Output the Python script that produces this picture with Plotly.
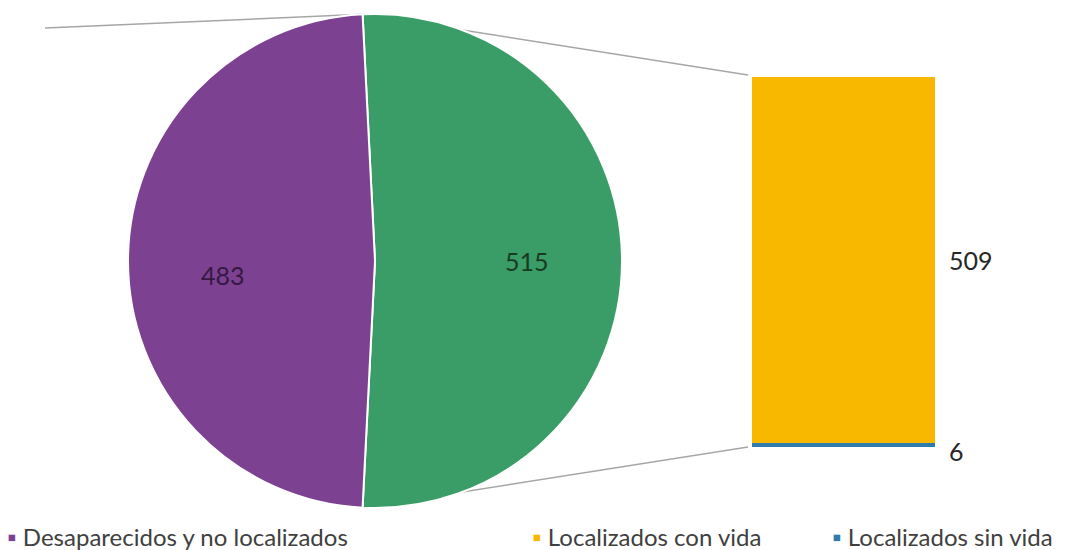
import math
import plotly.graph_objects as go

# Pie: missing vs. located persons
pie_labels = ["Localizados", "Desaparecidos y no localizados"]
pie_values = [515, 483]
pie_colors = ["#3A9D67", "#7D4192"]
pie_text_colors = ["#183A22", "#351843"]

# Breakdown bar of the located slice
bar_labels = ["Localizados sin vida", "Localizados con vida"]
bar_values = [6, 509]
bar_colors = ["#2E7BAE", "#F9B800"]

# Legend entries
legend_labels = ["Desaparecidos y no localizados", "Localizados con vida", "Localizados sin vida"]
legend_colors = ["#7D4192", "#F9B800", "#2E7BAE"]

W, H = 1066, 550
FONT = "Lato"

pie_dom_x = [128 / W, 622 / W]
pie_dom_y = [42 / H, 536 / H]
bar_dom_x = [752 / W, 935 / W]
bar_dom_y = [103 / H, 473 / H]

total_pie = sum(pie_values)
split_deg = pie_values[0] / total_pie * 360
rotation = -split_deg / 2 + 90  # split slice centred on 3 o'clock

fig = go.Figure()

fig.add_trace(go.Pie(
    labels=pie_labels,
    values=pie_values,
    sort=False,
    direction="clockwise",
    rotation=rotation,
    marker=dict(colors=pie_colors, line=dict(color="white", width=2)),
    textinfo="none",
    domain=dict(x=pie_dom_x, y=pie_dom_y),
    showlegend=False,
    hoverinfo="label+value",
))

for lab, val, col in zip(bar_labels, bar_values, bar_colors):
    fig.add_trace(go.Bar(
        x=[0], y=[val], name=lab, marker=dict(color=col, line=dict(width=0)),
        width=1, showlegend=False, xaxis="x", yaxis="y",
    ))

bar_total = sum(bar_values)
fig.update_layout(
    width=W, height=H,
    margin=dict(l=0, r=0, t=0, b=0),
    paper_bgcolor="white", plot_bgcolor="white",
    barmode="stack", bargap=0,
    xaxis=dict(domain=bar_dom_x, range=[-0.5, 0.5], visible=False, fixedrange=True),
    yaxis=dict(domain=bar_dom_y, range=[0, bar_total], visible=False, fixedrange=True),
    showlegend=False,
)

# Pie geometry in pixels
cx = (pie_dom_x[0] + pie_dom_x[1]) / 2 * W
cy = (1 - (pie_dom_y[0] + pie_dom_y[1]) / 2) * H
r = min(pie_dom_x[1] - pie_dom_x[0], (pie_dom_y[1] - pie_dom_y[0]) * H / W) * W / 2

ann = []

# Slice value labels along each slice's mid-angle
start = rotation
for val, tcol, dy in zip(pie_values, pie_text_colors, [0, -14]):
    sweep = val / total_pie * 360
    mid = math.radians(start + sweep / 2)
    lx = cx + 0.615 * r * math.sin(mid)
    ly = cy - 0.615 * r * math.cos(mid)
    ann.append(dict(x=lx / W, y=1 - ly / H, xref="paper", yref="paper",
                    xanchor="center", yanchor="middle",
                    text=str(val), showarrow=False, yshift=dy,
                    font=dict(family=FONT, size=25, color=tcol)))
    start += sweep

# Value labels to the right of the bar segments
cum = 0
for val, dy in zip(bar_values, [-6, 0]):
    ann.append(dict(x=0.5, y=cum + val / 2, xref="x", yref="y", text=str(val),
                    showarrow=False, xanchor="left", yanchor="middle",
                    xshift=12, yshift=dy,
                    font=dict(family=FONT, size=25, color="#262626")))
    cum += val

# Legend along the bottom
legend_x = [5 / W, 530 / W, 830 / W]
for lab, col, lx in zip(legend_labels, legend_colors, legend_x):
    ann.append(dict(x=lx, y=0.024, xref="paper", yref="paper",
                    text=f'<span style="color:{col}">▪</span> {lab}',
                    showarrow=False, xanchor="left", yanchor="middle",
                    font=dict(family=FONT, size=24, color="#404040")))
fig.update_layout(annotations=ann)

# Connector lines from the split slice edge to the bar
a0 = math.radians(rotation)
a1 = math.radians(rotation + split_deg)
p0 = (cx + r * math.sin(a0), cy - r * math.cos(a0))
p1 = (cx + r * math.sin(a1), cy - r * math.cos(a1))
bx = bar_dom_x[0] * W - 4
by_top = (1 - bar_dom_y[1]) * H
by_bot = (1 - bar_dom_y[0]) * H

def px_line(x0, y0, x1, y1):
    return dict(type="line", xref="paper", yref="paper", layer="below",
                x0=x0 / W, y0=1 - y0 / H, x1=x1 / W, y1=1 - y1 / H,
                line=dict(color="#A6A6A6", width=1.5))

fig.update_layout(shapes=[
    px_line(p0[0], p0[1], bx, by_top - 2),
    px_line(p1[0], p1[1], bx, by_bot),
    px_line(p0[0], p0[1], 45, 28),
])

fig.write_html("out.html")
